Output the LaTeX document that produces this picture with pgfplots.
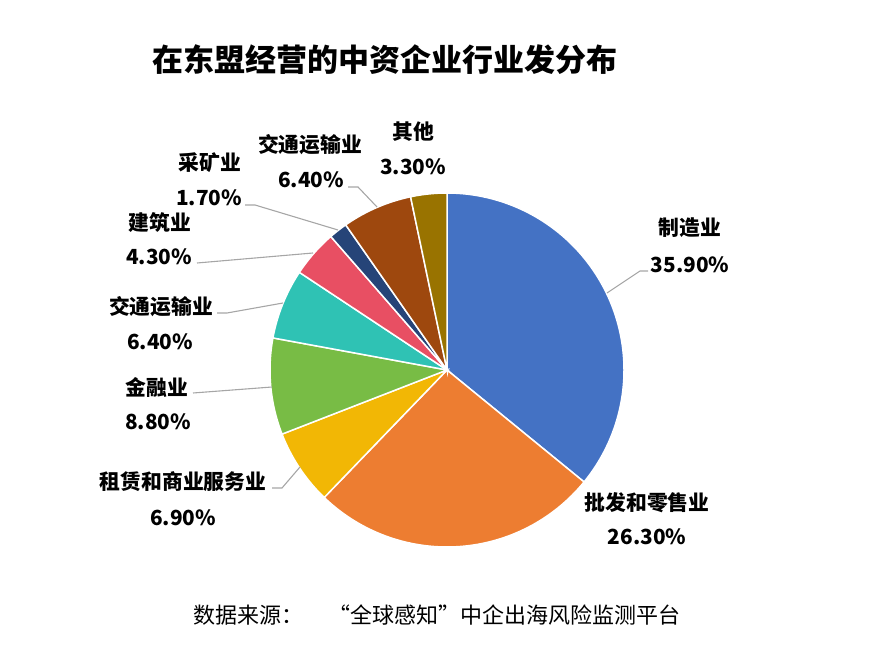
\documentclass[border=0pt]{standalone}
\usepackage{fontspec}
\setmainfont{Noto Sans CJK SC}
\usepackage{pgfplots}
\pgfplotsset{compat=1.18}
\usepackage{pgfplotstable}

\definecolor{c1}{HTML}{4472C4}
\definecolor{c2}{HTML}{ED7D31}
\definecolor{c3}{HTML}{F2B705}
\definecolor{c4}{HTML}{78BC45}
\definecolor{c5}{HTML}{2FC2B4}
\definecolor{c6}{HTML}{E84F63}
\definecolor{c7}{HTML}{264478}
\definecolor{c8}{HTML}{9E480E}
\definecolor{c9}{HTML}{997300}
\definecolor{leadgray}{HTML}{A6A6A6}

% share of each industry (percent), clockwise from 12 o'clock
\pgfplotstableread{
pct color
35.9 c1
26.3 c2
6.9 c3
8.8 c4
6.4 c5
4.3 c6
1.7 c7
6.4 c8
3.3 c9
}\piedata

\newcommand\lbl{\fontsize{20.8}{24}\selectfont\bfseries}

\begin{document}
\begin{tikzpicture}
\path[use as bounding box] (0,0) rectangle (874pt,664pt);
\begin{axis}[
  hide axis, scale only axis,
  width=874pt, height=664pt,
  xmin=0, xmax=874, ymin=0, ymax=664,
  clip=false, anchor=south west, at={(0,0)},
  leader/.style={leadgray, line width=1.1pt, mark=none},
]
\pgfmathsetmacro{\cum}{0}
\pgfplotsforeachungrouped \i in {0,...,8}{%
  \pgfplotstablegetelem{\i}{pct}\of\piedata \let\p\pgfplotsretval
  \pgfplotstablegetelem{\i}{color}\of\piedata \let\col\pgfplotsretval
  \pgfmathsetmacro{\aend}{90-3.6*\cum}%
  \pgfmathsetmacro{\cum}{\cum+\p}%
  \pgfmathsetmacro{\astart}{90-3.6*\cum}%
  \edef\cmd{\noexpand\addplot[fill=\col, draw=white, line width=1.5pt, domain=\astart:\aend, samples=80, mark=none] ({447+177*cos(x)},{294+177*sin(x)}) -- (447,294) -- cycle;}%
  \cmd
}

% leader lines
\addplot[leader] coordinates {(648,393) (640,393) (607,371)};
\addplot[leader] coordinates {(272,176) (282,176) (300,197)};
\addplot[leader] coordinates {(193,271) (272,277)};
\addplot[leader] coordinates {(217,351) (227,351) (283,361)};
\addplot[leader] coordinates {(197,401) (313,411)};
\addplot[leader] coordinates {(245,459) (255,459) (338,434)};
\addplot[leader] coordinates {(348,477) (358,477) (377,457)};

% labels
\node[font=\lbl] at (axis cs:690,436) {制造业};
\node[font=\lbl] at (axis cs:690,399) {35.90\%};
\node[font=\lbl] at (axis cs:647,161) {批发和零售业};
\node[font=\lbl] at (axis cs:647,127) {26.30\%};
\node[font=\lbl] at (axis cs:183,182) {租赁和商业服务业};
\node[font=\lbl] at (axis cs:183,146) {6.90\%};
\node[font=\lbl] at (axis cs:157,277) {金融业};
\node[font=\lbl] at (axis cs:158,242) {8.80\%};
\node[font=\lbl] at (axis cs:161,357) {交通运输业};
\node[font=\lbl] at (axis cs:160,322) {6.40\%};
\node[font=\lbl] at (axis cs:160,442) {建筑业};
\node[font=\lbl] at (axis cs:159,407) {4.30\%};
\node[font=\lbl] at (axis cs:210,501) {采矿业};
\node[font=\lbl] at (axis cs:209,466) {1.70\%};
\node[font=\lbl] at (axis cs:310,519) {交通运输业};
\node[font=\lbl] at (axis cs:311,484) {6.40\%};
\node[font=\lbl] at (axis cs:413,532) {其他};
\node[font=\lbl] at (axis cs:413,497) {3.30\%};

% title and source
\node[font=\fontsize{31}{35}\selectfont\bfseries] at (axis cs:385,604) {在东盟经营的中资企业行业发分布};
\node[font=\fontsize{22}{26}\selectfont] at (axis cs:437,49) {数据来源：\hspace{1.1em}“全球感知”中企出海风险监测平台};
\end{axis}
\end{tikzpicture}
\end{document}
